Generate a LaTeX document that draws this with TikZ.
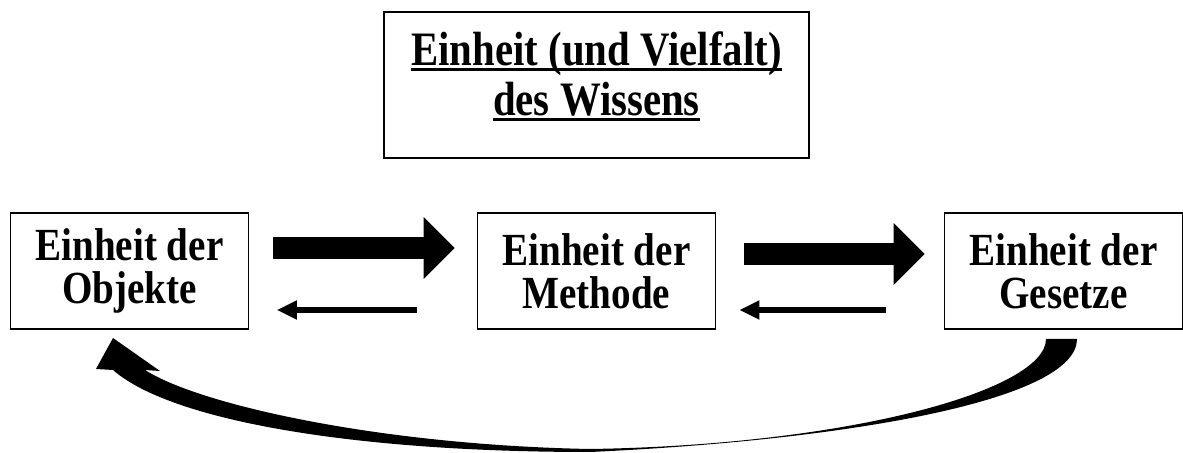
\documentclass[tikz,border=0pt]{standalone}
\usepackage{fontspec}
\setmainfont{Liberation Serif}[FakeStretch=0.85]
\usetikzlibrary{arrows.meta, positioning}

\newcommand{\unterstrich}[1]{\setbox0\hbox{#1}\rlap{\rule[-2.6pt]{\wd0}{1.5pt}}\box0}

\tikzset{
	box/.style={draw, line width=0.9pt, minimum width=119pt, minimum height=58pt, align=center, inner sep=0pt, font=\fontsize{23}{21.5}\selectfont\bfseries},
	titlebox/.style={box, minimum width=212.5pt, minimum height=73pt, font=\fontsize{24}{25}\selectfont\bfseries},
	bigarrow/.style={line width=11pt, -{Triangle[length=15.5pt,width=30pt]}},
	smallarrow/.style={line width=3pt, -{Triangle[length=10pt,width=9pt]}}
}

\begin{document}
\begin{tikzpicture}[x=0.5pt, y=-0.5pt, node distance=233.5pt, on grid]
	\useasboundingbox (0,0) rectangle (1183,453);
	\node[box] (methode) at (596.5,271) {Einheit der\\Methode};
	\node[box] (objekte) [left=of methode] {Einheit der\\Objekte};
	\node[box] (gesetze) [right=of methode] {Einheit der\\Gesetze};
	\node[titlebox] (wissen) [above=93pt of methode] {\unterstrich{Einheit (und Vielfalt)}\\\unterstrich{des Wissens}\\[-14pt]\mbox{}};
	\path
		([yshift=11.5pt]objekte.east) edge [bigarrow, shorten <=12pt, shorten >=11pt] ([yshift=11.5pt]methode.west)
		([yshift=8.5pt]methode.east) edge [bigarrow, shorten <=14pt, shorten >=9.5pt] ([yshift=8.5pt]gesetze.west)
		([yshift=-19.5pt]methode.west) edge [smallarrow, shorten <=30pt, shorten >=13.75pt] ([yshift=-19.5pt]objekte.east)
		([yshift=-19.5pt]gesetze.west) edge [smallarrow, shorten <=29pt, shorten >=11.5pt] ([yshift=-19.5pt]methode.east);
	% Rueckpfeil von den Gesetzen zu den Objekten
	\fill (1046,339) -- (1077,339)
		.. controls (1077,400) and (850,440) .. (590,452)
		.. controls (350,452) and (170,420) .. (113,370)
		-- (96,369) -- (113,338) -- (160,371) -- (145,370)
		.. controls (200,405) and (380,445) .. (590,449)
		.. controls (850,445) and (1046,390) .. (1046,339) -- cycle;
\end{tikzpicture}
\end{document}
